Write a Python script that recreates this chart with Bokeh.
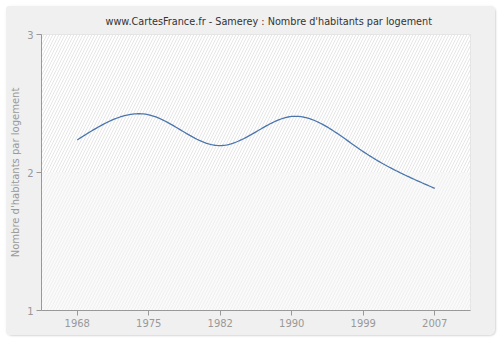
import numpy as np
from bokeh.plotting import figure
from bokeh.models import FixedTicker, BoxAnnotation, Range1d
from bokeh.embed import file_html
from bokeh.resources import INLINE

years = ["1968", "1975", "1982", "1990", "1999", "2007"]
values = [2.236, 2.418, 2.195, 2.406, 2.151, 1.885]
y_ticks = [1, 2, 3]
title_text = "www.CartesFrance.fr - Samerey : Nombre d'habitants par logement"


def natural_spline(ys, n=40):
    ys = np.asarray(ys, float)
    xs = np.arange(len(ys), dtype=float)
    m = len(xs)
    h = np.diff(xs)
    A = np.zeros((m, m))
    rhs = np.zeros(m)
    A[0, 0] = 1
    A[-1, -1] = 1
    for i in range(1, m - 1):
        A[i, i - 1] = h[i - 1]
        A[i, i] = 2 * (h[i - 1] + h[i])
        A[i, i + 1] = h[i]
        rhs[i] = 3 * ((ys[i + 1] - ys[i]) / h[i] - (ys[i] - ys[i - 1]) / h[i - 1])
    c = np.linalg.solve(A, rhs)
    px, py = [], []
    for i in range(m - 1):
        b = (ys[i + 1] - ys[i]) / h[i] - h[i] * (2 * c[i] + c[i + 1]) / 3
        d = (c[i + 1] - c[i]) / (3 * h[i])
        t = np.linspace(0, h[i], n, endpoint=(i == m - 2))
        px.extend(xs[i] + t)
        py.extend(ys[i] + b * t + c[i] * t ** 2 + d * t ** 3)
    return px, py


FONT = "DejaVu Sans"
GRAY = "#999999"

p = figure(width=490, height=330, output_backend="svg", toolbar_location=None,
           x_range=Range1d(-0.5, len(years) - 0.5), y_range=Range1d(y_ticks[0], y_ticks[-1]),
           title=title_text,
           min_border_left=36, min_border_right=25, min_border_bottom=25, min_border_top=29)

p.border_fill_color = "#f0f0f0"
p.background_fill_color = "#ffffff"
p.outline_line_color = "#dddddd"
p.styles = {"margin": "5px", "border-radius": "6px", "overflow": "hidden",
            "box-shadow": "1px 1px 2px #d6d6d6"}

p.title.text_font = FONT
p.title.text_font_size = "9.7px"
p.title.text_font_style = "normal"
p.title.text_color = "#333333"
p.title.align = "left"
p.title.offset = 64
p.title.standoff = 16

# hatched backgrounds
p.add_layout(BoxAnnotation(bottom=2, top=3, fill_color="#ffffff", fill_alpha=1,
                           hatch_pattern="right_diagonal_line", hatch_color="#e6e6e6",
                           hatch_scale=6, hatch_weight=1, line_color=None, level="underlay"))
p.add_layout(BoxAnnotation(bottom=1, top=2, fill_color="#fafafa", fill_alpha=1,
                           hatch_pattern="right_diagonal_line", hatch_color="#f0f0f0",
                           hatch_scale=6, hatch_weight=1, line_color=None, level="underlay"))

sx, sy = natural_spline(values)
p.line(sx, sy, line_color="#4a76ad", line_width=1.3)

p.xaxis.ticker = FixedTicker(ticks=list(range(len(years))))
p.xaxis.major_label_overrides = {i: y for i, y in enumerate(years)}
p.yaxis.ticker = FixedTicker(ticks=y_ticks)
p.yaxis.axis_label = "Nombre d'habitants par logement"

for ax in (p.xaxis[0], p.yaxis[0]):
    ax.axis_line_color = GRAY
    ax.major_tick_line_color = GRAY
    ax.minor_tick_line_color = None
    ax.major_tick_in = 0
    ax.major_tick_out = 5
    ax.major_label_text_font = FONT
    ax.major_label_text_font_size = "10px"
    ax.major_label_text_color = GRAY
    ax.axis_label_text_font = FONT
    ax.axis_label_text_font_size = "10px"
    ax.axis_label_text_font_style = "normal"
    ax.axis_label_text_color = GRAY
p.xaxis.major_label_standoff = 3
p.yaxis.major_label_standoff = 3
p.yaxis.axis_label_standoff = 3

p.xgrid.grid_line_color = "#e2e2e2"
p.xgrid.grid_line_dash = "4 3"
p.ygrid.grid_line_color = "#e2e2e2"
p.ygrid.grid_line_dash = "4 3"

open("out.html", "w").write(file_html(p, INLINE))
